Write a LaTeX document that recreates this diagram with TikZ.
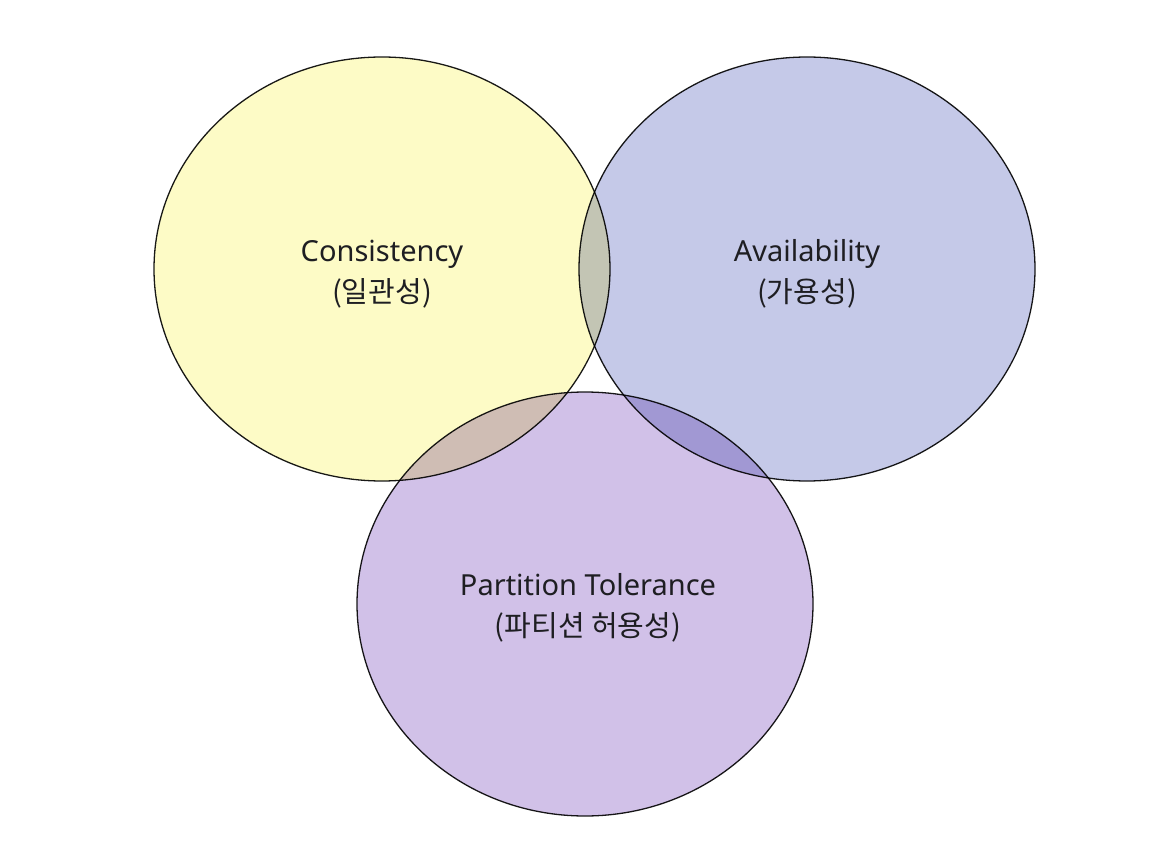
\documentclass[tikz,border=0pt]{standalone}
\usepackage{fontspec}
\setmainfont{Noto Sans}
\newfontfamily\cjk{Noto Sans CJK KR}
\usepackage{tikz}
\definecolor{consfill}{RGB}{253, 251, 198}
\definecolor{availfill}{RGB}{197, 201, 232}
\definecolor{partfill}{RGB}{209, 193, 232}
\definecolor{labeltext}{RGB}{30, 30, 34}

\begin{document}
\begin{tikzpicture}[x=1pt, y=-1pt,
    every node/.style={font=\fontsize{29}{41}\selectfont, align=center, text=labeltext},
    set/.style={draw=black!90, line width=1.3pt}]
  \useasboundingbox (0,0) rectangle (1171,853);
  \begin{scope}[blend group=multiply]
    \draw[set, fill=consfill] (382,269) ellipse [x radius=228pt, y radius=212pt];
    \draw[set, fill=availfill] (807,269) ellipse [x radius=228pt, y radius=212pt];
    \draw[set, fill=partfill] (585,604) ellipse [x radius=228pt, y radius=212pt];
  \end{scope}
  \node (cons) at (382,274) {Consistency\\{\cjk (일관성)}};
  \node (avail) at (807,274) {Availability\\{\cjk (가용성)}};
  \node (part) at (588,608) {Partition Tolerance\\{\cjk (파티션 허용성)}};
\end{tikzpicture}
\end{document}
